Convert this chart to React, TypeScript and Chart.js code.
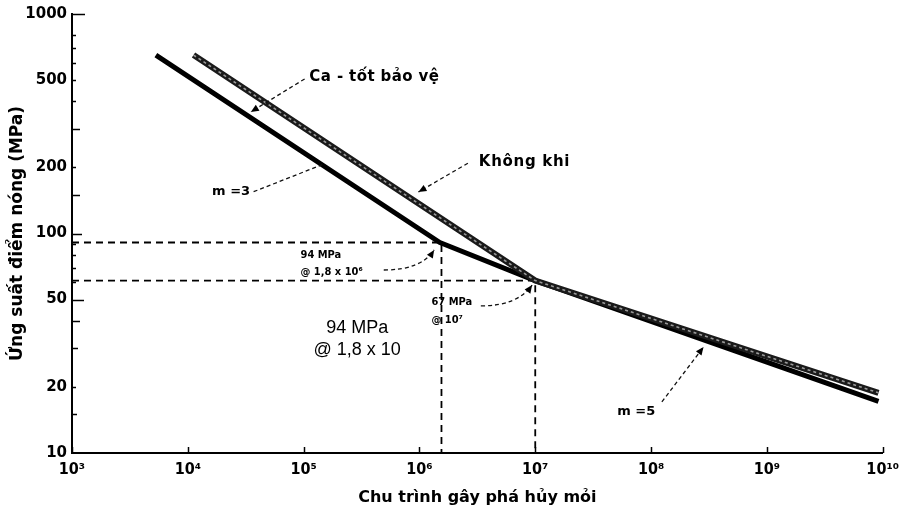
import { useEffect, useRef } from 'react';
import { Chart, registerables } from 'chart.js';

Chart.register(...registerables);

// ---- axis ticks ----
const xTickValues = [1e3, 1e4, 1e5, 1e6, 1e7, 1e8, 1e9, 1e10];
const xTickLabels = ['10³', '10⁴', '10⁵', '10⁶', '10⁷', '10⁸', '10⁹', '10¹⁰'];
const yTickValues = [10, 20, 50, 100, 200, 500, 1000];
const yTickLabels = ['10', '20', '50', '100', '200', '500', '1000'];
const yInsideTickValues = [15, 20, 30, 40, 50, 60, 70, 80, 90, 100, 150, 200, 300, 400, 500, 600, 700, 800, 1000];
const yInsideTickLengths = [5, 4, 6, 8, 12, 4, 4, 4, 4, 10, 8, 4, 8, 4, 4, 4, 4, 4, 13];

// ---- series ----
const airCycles = [1.12e4, 1e7, 9.2e9];
const airStress = [650, 61, 18.8];
const protectedCycles = [5.3e3, 1.5e6, 1e7, 9.2e9];
const protectedStress = [650, 91, 61, 17.2];

// ---- guide (dashed reference) lines ----
const guideCycles = [1.55e6, 1e7];
const guideStress = [91, 61];
const axisMinCycles = 1e3;
const axisMaxCycles = 1e10;
const axisMinStress = 10;
const axisMaxStress = 1000;

// ---- text annotations ----
const noteTexts = ['Ca - tốt bảo vệ', 'Không khi', 'm =3', 'm =5', '94 MPa', '@ 1,8 x 10⁶', '67 MPa', '@ 10⁷', '94 MPa', '@ 1,8 x 10'];
const noteCycles = [1.12e5, 3.26e6, 3.45e4, 5.1e7, 9.4e4, 9.4e4, 1.27e6, 1.27e6, 2.9e5, 2.9e5];
const noteStress = [516, 212, 155, 15.4, 79.8, 66.8, 48.8, 40.4, 37.1, 29.4];

type NoteStyle = { font: string; align: CanvasTextAlign; spacing: string };
const noteStyles: NoteStyle[] = [
  { font: 'bold 15px "DejaVu Sans"', align: 'left', spacing: '0.4px' },
  { font: 'bold 15px "DejaVu Sans"', align: 'left', spacing: '0.7px' },
  { font: 'bold 13px "DejaVu Sans"', align: 'right', spacing: '0px' },
  { font: 'bold 13px "DejaVu Sans"', align: 'left', spacing: '0px' },
  { font: 'bold 11px "DejaVu Sans Condensed"', align: 'left', spacing: '0px' },
  { font: 'bold 11px "DejaVu Sans Condensed"', align: 'left', spacing: '0px' },
  { font: 'bold 11px "DejaVu Sans Condensed"', align: 'left', spacing: '0px' },
  { font: 'bold 11px "DejaVu Sans Condensed"', align: 'left', spacing: '0px' },
  { font: '18px "Liberation Sans"', align: 'center', spacing: '0px' },
  { font: '18px "Liberation Sans"', align: 'center', spacing: '0px' },
];

// ---- arrows: start, optional control, end (data coordinates) ----
type Arrow = { from: [number, number]; ctrl?: [number, number]; to: [number, number]; head: boolean };
const arrows: Arrow[] = [
  { from: [1.02e5, 506], to: [3.5e4, 358], head: true },
  { from: [2.62e6, 209], to: [9.8e5, 154.6], head: true },
  { from: [3.7e4, 155], to: [1.45e5, 206], head: false },
  { from: [1.24e8, 17.1], to: [2.84e8, 30.4], head: true },
  { from: [4.92e5, 68.2], ctrl: [1.04e6, 68.2], to: [1.34e6, 84.2], head: true },
  { from: [3.39e6, 46.8], ctrl: [7.0e6, 46.8], to: [9.4e6, 58.2], head: true },
];

const toPoints = (xs: number[], ys: number[]) => xs.map((x, i) => ({ x, y: ys[i] }));

const overlayPlugin = {
  id: 'overlay',
  afterDatasetsDraw(chart: any) {
    const { ctx, chartArea } = chart;
    const xs = chart.scales.x;
    const ys = chart.scales.y;
    const px = (v: number) => xs.getPixelForValue(v);
    const py = (v: number) => ys.getPixelForValue(v);
    ctx.save();
    // inside tick marks
    ctx.strokeStyle = '#000';
    ctx.lineWidth = 1.5;
    ctx.setLineDash([]);
    yInsideTickValues.forEach((v, i) => {
      const yy = Math.round(py(v)) + 0.5;
      ctx.beginPath();
      ctx.moveTo(chartArea.left, yy);
      ctx.lineTo(chartArea.left + yInsideTickLengths[i], yy);
      ctx.stroke();
    });
    xTickValues.forEach((v) => {
      const xx = Math.round(px(v)) + 0.5;
      ctx.beginPath();
      ctx.moveTo(xx, chartArea.bottom);
      ctx.lineTo(xx, chartArea.bottom - 6);
      ctx.stroke();
    });
    // arrows
    arrows.forEach((a) => {
      const x0 = px(a.from[0]), y0 = py(a.from[1]);
      const x1 = px(a.to[0]), y1 = py(a.to[1]);
      ctx.strokeStyle = '#111';
      ctx.lineWidth = 1.3;
      ctx.setLineDash([4, 3]);
      ctx.beginPath();
      ctx.moveTo(x0, y0);
      let tx = x0, ty = y0;
      if (a.ctrl) {
        const cx = px(a.ctrl[0]), cy = py(a.ctrl[1]);
        ctx.quadraticCurveTo(cx, cy, x1, y1);
        tx = cx; ty = cy;
      } else {
        ctx.lineTo(x1, y1);
      }
      ctx.stroke();
      ctx.setLineDash([]);
      if (a.head) {
        const ang = Math.atan2(y1 - ty, x1 - tx);
        const L = 8, W = 3.5;
        ctx.fillStyle = '#000';
        ctx.beginPath();
        ctx.moveTo(x1, y1);
        ctx.lineTo(x1 - L * Math.cos(ang) + W * Math.sin(ang), y1 - L * Math.sin(ang) - W * Math.cos(ang));
        ctx.lineTo(x1 - L * Math.cos(ang) - W * Math.sin(ang), y1 - L * Math.sin(ang) + W * Math.cos(ang));
        ctx.closePath();
        ctx.fill();
      }
    });
    // texts
    ctx.fillStyle = '#000';
    ctx.textBaseline = 'middle';
    noteTexts.forEach((t, i) => {
      const st = noteStyles[i];
      ctx.font = st.font;
      ctx.textAlign = st.align;
      if ('letterSpacing' in ctx) (ctx as any).letterSpacing = st.spacing;
      ctx.fillText(t, px(noteCycles[i]), py(noteStress[i]));
    });
    if ('letterSpacing' in ctx) (ctx as any).letterSpacing = '0px';
    ctx.restore();
  },
};

export default function App() {
  const canvasRef = useRef<HTMLCanvasElement | null>(null);

  useEffect(() => {
    const canvas = canvasRef.current;
    if (!canvas) return;
    const guide1 = [
      { x: axisMinCycles, y: guideStress[0] },
      { x: guideCycles[0], y: guideStress[0] },
      { x: guideCycles[0], y: axisMinStress },
    ];
    const guide2 = [
      { x: axisMinCycles, y: guideStress[1] },
      { x: guideCycles[1], y: guideStress[1] },
      { x: guideCycles[1], y: axisMinStress },
    ];
    const chart = new Chart(canvas, {
      type: 'scatter',
      data: {
        datasets: [
          {
            label: 'Không khi (texture)',
            data: toPoints(airCycles, airStress),
            showLine: true,
            borderColor: '#9a9a9a',
            borderWidth: 1.6,
            borderDash: [3, 3],
            pointRadius: 0,
            order: 0,
          },
          {
            label: 'Không khi',
            data: toPoints(airCycles, airStress),
            showLine: true,
            borderColor: '#1a1a1a',
            borderWidth: 6,
            borderCapStyle: 'butt',
            pointRadius: 0,
            order: 1,
          },
          {
            label: 'Ca - tốt bảo vệ',
            data: toPoints(protectedCycles, protectedStress),
            showLine: true,
            borderColor: '#000',
            borderWidth: 5,
            borderCapStyle: 'butt',
            borderJoinStyle: 'round',
            pointRadius: 0,
            order: 2,
          },
          {
            label: 'guide 94',
            data: guide1,
            showLine: true,
            borderColor: '#000',
            borderWidth: 1.8,
            borderDash: [7, 5],
            pointRadius: 0,
            order: 3,
          },
          {
            label: 'guide 67',
            data: guide2,
            showLine: true,
            borderColor: '#000',
            borderWidth: 1.8,
            borderDash: [7, 5],
            pointRadius: 0,
            order: 4,
          },
        ],
      },
      options: {
        animation: false,
        responsive: false,
        devicePixelRatio: 1,
        layout: { padding: { left: 0, right: 14, top: 14, bottom: 0 } },
        plugins: { legend: { display: false }, tooltip: { enabled: false } },
        scales: {
          x: {
            type: 'logarithmic',
            min: axisMinCycles,
            max: axisMaxCycles,
            afterBuildTicks: (scale: any) => {
              scale.ticks = xTickValues.map((v) => ({ value: v }));
            },
            afterFit: (scale: any) => {
              scale.height = 59;
            },
            ticks: {
              autoSkip: false,
              maxRotation: 0,
              padding: 7,
              color: '#000',
              font: { family: '"DejaVu Sans Condensed"', weight: 'bold', size: 16 },
              callback: (v: any) => {
                const i = xTickValues.indexOf(Number(v));
                return i >= 0 ? xTickLabels[i] : '';
              },
            },
            grid: { display: false, drawTicks: false },
            border: { display: true, color: '#000', width: 2 },
            title: {
              display: true,
              text: 'Chu trình gây phá hủy mỏi',
              color: '#000',
              font: { family: '"DejaVu Sans"', weight: 'bold', size: 16 },
              padding: { top: 0, bottom: 5 },
            },
          },
          y: {
            type: 'logarithmic',
            min: axisMinStress,
            max: axisMaxStress,
            afterBuildTicks: (scale: any) => {
              scale.ticks = yTickValues.map((v) => ({ value: v }));
            },
            afterFit: (scale: any) => {
              scale.width = 72;
            },
            ticks: {
              autoSkip: false,
              padding: 5,
              color: '#000',
              font: { family: '"DejaVu Sans"', weight: 'bold', size: 15 },
              callback: (v: any) => {
                const i = yTickValues.indexOf(Number(v));
                return i >= 0 ? yTickLabels[i] : '';
              },
            },
            grid: { display: false, drawTicks: false },
            border: { display: true, color: '#000', width: 2 },
            title: {
              display: true,
              text: 'Ứng suất điểm nóng (MPa)',
              color: '#000',
              font: { family: '"DejaVu Sans"', weight: 'bold', size: 17 },
              padding: { top: 7, bottom: 0 },
            },
          },
        },
      },
      plugins: [overlayPlugin],
    } as any);
    return () => chart.destroy();
  }, []);

  return (
    <div style={{ position: 'absolute', left: 0, top: 0, width: 906, height: 512, background: '#fff' }}>
      <canvas ref={canvasRef} width={906} height={512} style={{ display: 'block' }} />
    </div>
  );
}
